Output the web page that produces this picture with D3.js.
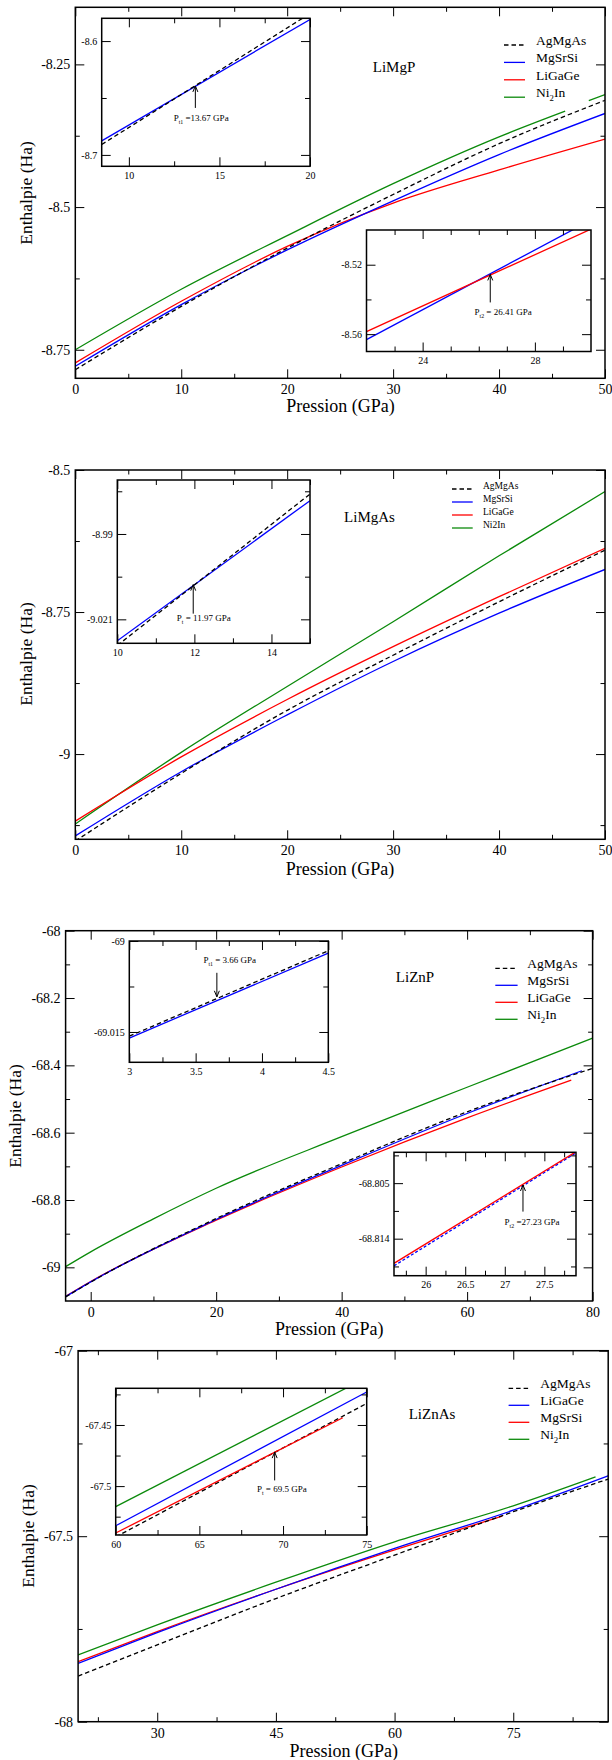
<!DOCTYPE html>
<html>
<head>
<meta charset="utf-8">
<script src="https://cdn.jsdelivr.net/npm/d3@7"></script>
<style>
  body { margin: 0; background: #fff; }
  svg { display: block; }
  svg text { font-family: "Liberation Serif", "Times New Roman", serif; }
</style>
</head>
<body>
<svg id="chart" width="612" height="1760" font-family="Liberation Serif, Times New Roman, serif"></svg>
<script>
// legend order = drawing style order (dashed black, blue, red, green)
const namesA = ['AgMgAs', 'MgSrSi', 'LiGaGe', 'Ni_2In'];
const namesB = ['AgMgAs', 'MgSrSi', 'LiGaGe', 'Ni2In'];
const namesC = ['AgMgAs', 'LiGaGe', 'MgSrSi', 'Ni_2In'];
const compounds = ['LiMgP', 'LiMgAs', 'LiZnP', 'LiZnAs'];

// ---- LiMgP : [pressure (GPa), enthalpy (Ha)], null = gap in the curve ----
const limgpAgMgAs = [[0, -8.785], [10, -8.674], [20, -8.572], [30, -8.478], [40, -8.389], [50, -8.313]];
const limgpMgSrSi = [[0, -8.779], [10, -8.671], [20, -8.575], [30, -8.489], [40, -8.408], [50, -8.336]];
const limgpLiGaGe = [[0, -8.773], [10, -8.665], [20, -8.569], [30, -8.493], [40, -8.435], [50, -8.381]];
const limgpNi2In = [[0, -8.750], [10, -8.644], [20, -8.550], [30, -8.459], [40, -8.377], [46.24, -8.332],
    [47, null], [48.47, -8.3136], [50, -8.303]];
const limgpZoom1AgMgAs = [[8.5, -8.6909], [20, -8.5758]];
const limgpZoom1MgSrSi = [[8.5, -8.6877], [20, -8.5810]];
const limgpZoom2MgSrSi = [[22, -8.5632], [30, -8.4943]];
const limgpZoom2LiGaGe = [[22, -8.5585], [30, -8.4995]];
const limgpTransitions = [[13.67, -8.6394], [26.41, -8.5256]];
const limgpLabels = ['P_{t1} =13.67 GPa', 'P_{t2} = 26.41 GPa'];

// ---- LiMgAs ----
const limgasAgMgAs = [[0, -9.153], [10, -9.034], [20, -8.923], [30, -8.826], [40, -8.732], [50, -8.641]];
const limgasMgSrSi = [[0, -9.144], [10, -9.031], [20, -8.931], [30, -8.837], [40, -8.752], [50, -8.675]];
const limgasLiGaGe = [[0, -9.118], [10, -9.005], [20, -8.904], [30, -8.811], [40, -8.723], [50, -8.638]];
const limgasNi2In = [[0, -9.123], [10, -8.997], [20, -8.881], [30, -8.767], [40, -8.651], [50, -8.538]];
const limgasZoomAgMgAs = [[10, -9.0305], [15, -8.9755]];
const limgasZoomMgSrSi = [[10, -9.0288], [15, -8.9779]];
const limgasTransitions = [[11.97, -9.0084]];
const limgasLabels = ['P_t = 11.97 GPa'];

// ---- LiZnP ----
const liznpAgMgAs = [[-4, -69.088], [0, -69.044], [20, -68.855], [40, -68.692], [60, -68.538], [80, -68.409]];
const liznpMgSrSi = [[-4, -69.087], [0, -69.043], [20, -68.858], [40, -68.697], [60, -68.543], [78.3, -68.416]];
const liznpLiGaGe = [[-4, -69.086], [0, -69.042], [20, -68.860], [40, -68.702], [60, -68.556], [76.6, -68.444]];
const liznpNi2In = [[-4, -68.998], [0, -68.954], [10, -68.856], [20, -68.765], [40, -68.612], [60, -68.465], [80, -68.319]];
const liznpZoom1AgMgAs = [[3, -69.0157], [4.5, -69.0016]];
const liznpZoom1MgSrSi = [[3, -69.0160], [4.5, -69.0020]];
const liznpZoom2MgSrSi = [[25.6, -68.8184], [27.9, -68.8001]];
const liznpZoom2LiGaGe = [[25.6, -68.8180], [27.9, -68.7999]];
const liznpTransitions = [[3.66, -69.0092], [27.23, -68.8053]];
const liznpLabels = ['P_{t1} = 3.66 GPa', 'P_{t2} =27.23 GPa'];

// ---- LiZnAs ----
const liznasAgMgAs = [[20, -67.877], [30, -67.793], [45, -67.668], [60, -67.551], [75, -67.434], [87, -67.346]];
const liznasLiGaGe = [[20, -67.843], [30, -67.760], [45, -67.643], [60, -67.533], [75, -67.430], [87, -67.337]];
const liznasMgSrSi = [[20, -67.838], [30, -67.757], [45, -67.643], [60, -67.537], [73.6, -67.446]];
const liznasNi2In = [[20, -67.820], [30, -67.739], [45, -67.624], [60, -67.515], [75, -67.418], [85.4, -67.340]];
const liznasZoomAgMgAs = [[60, -67.5416], [75, -67.4324]];
const liznasZoomLiGaGe = [[60, -67.5324], [75, -67.4230]];
const liznasZoomMgSrSi = [[60, -67.5384], [73.57, -67.4441]];
const liznasZoomNi2In = [[60, -67.5168], [75, -67.4112]];
const liznasTransitions = [[69.5, -67.4722]];
const liznasLabels = ['P_t = 69.5 GPa'];

// ---- ticks ----
const ticks1 = { x: [0, 10, 20, 30, 40, 50], xm: [5, 15, 25, 35, 45], y: [-8.75, -8.5, -8.25], ym: [-8.625, -8.375], yl: ['-8.75', '-8.5', '-8.25'] };
const ticks1a = { x: [10, 15, 20], xm: [12.5, 17.5], y: [-8.7, -8.6], ym: [-8.65], yl: ['-8.7', '-8.6'] };
const ticks1b = { x: [24, 28], xm: [23, 25, 26, 27, 29], y: [-8.56, -8.52], ym: [-8.54], yl: ['-8.56', '-8.52'] };
const ticks2 = { x: [0, 10, 20, 30, 40, 50], xm: [5, 15, 25, 35, 45], y: [-9, -8.75, -8.5], ym: [-9.125, -8.875, -8.625], yl: ['-9', '-8.75', '-8.5'] };
const ticks2a = { x: [10, 12, 14], xm: [11, 13, 15], y: [-9.021, -8.99], ym: [-9.0055, -8.9745], yl: ['-9.021', '-8.99'] };
const ticks3 = { x: [0, 20, 40, 60, 80], xm: [10, 30, 50, 70], y: [-69, -68.8, -68.6, -68.4, -68.2, -68], ym: [-68.9, -68.7, -68.5, -68.3, -68.1], yl: ['-69', '-68.8', '-68.6', '-68.4', '-68.2', '-68'] };
const ticks3a = { x: [3, 3.5, 4, 4.5], xm: [3.25, 3.75, 4.25], y: [-69.015, -69], ym: [-69.0075], yl: ['-69.015', '-69'] };
const ticks3b = { x: [26, 26.5, 27, 27.5], xm: [25.75, 26.25, 26.75, 27.25, 27.75], y: [-68.814, -68.805], ym: [-68.8185, -68.8095, -68.8005], yl: ['-68.814', '-68.805'] };
const ticks4 = { x: [30, 45, 60, 75], xm: [22.5, 37.5, 52.5, 67.5, 82.5], y: [-68, -67.5, -67], ym: [-67.75, -67.25], yl: ['-68', '-67.5', '-67'] };
const ticks4a = { x: [60, 65, 70, 75], xm: [62.5, 67.5, 72.5], y: [-67.5, -67.45], ym: [-67.525, -67.475, -67.425], yl: ['-67.5', '-67.45'] };

const colors = ['#000000', '#0000ff', '#ff0000', '#0b8a0b'];
const dashes = ['4.5,3', null, null, null];
const serif = 'Liberation Serif, Times New Roman, serif';

const svg = d3.select('#chart');
const defs = svg.append('defs');
let clipN = 0;

// text with simple subscripts: X_2 or X_{t1}
function rich(text, str, size) {
    let shift = 0;
    str.split(/(_\{[^}]*\}|_.)/).filter(s => s).forEach(p => {
        const isSub = p[0] === '_';
        const want = isSub ? size * 0.3 : 0;
        text.append('tspan')
            .attr('dy', want - shift)
            .attr('font-size', isSub ? size * 0.65 : null)
            .text(isSub ? p.replace(/^_\{?|\}$/g, '') : p);
        shift = want;
    });
}

function style(i) { return { color: colors[i], dash: dashes[i] }; }

function plot(c) {
    const [l, r, t, b] = c.box;
    const x = d3.scaleLinear().domain(c.xDomain).range([l, r]);
    const y = d3.scaleLinear().domain(c.yDomain).range([b, t]);
    const g = svg.append('g');
    const id = 'clip' + (clipN++);
    defs.append('clipPath').attr('id', id)
        .append('rect').attr('x', l).attr('y', t).attr('width', r - l).attr('height', b - t);

    g.append('rect').attr('x', l).attr('y', t).attr('width', r - l).attr('height', b - t).attr('fill', '#fff');

    const line = d3.line()
        .defined(d => d[1] != null)
        .x(d => x(d[0])).y(d => y(d[1]))
        .curve(d3.curveMonotoneX);
    g.append('g').attr('clip-path', `url(#${id})`)
        .selectAll('path')
        .data(c.series)
        .join('path')
        .attr('d', s => line(s.values))
        .attr('fill', 'none')
        .attr('stroke', s => s.color)
        .attr('stroke-width', 1.3)
        .attr('stroke-dasharray', s => s.dash);

    const tk = c.ticks;
    const sides = [
        { make: d3.axisBottom, scale: x, at: `translate(0,${b})`, major: tk.x, minor: tk.xm, labels: tk.x.map(String), pad: c.padX },
        { make: d3.axisTop, scale: x, at: `translate(0,${t})`, major: tk.x, minor: tk.xm },
        { make: d3.axisLeft, scale: y, at: `translate(${l},0)`, major: tk.y, minor: tk.ym, labels: tk.yl, pad: c.padY },
        { make: d3.axisRight, scale: y, at: `translate(${r},0)`, major: tk.y, minor: tk.ym }
    ];
    sides.forEach(s => {
        [[s.major, c.tickMajor, s.labels], [s.minor, c.tickMinor, null]].forEach(([vals, size, labels]) => {
            const ax = s.make(s.scale)
                .tickValues(vals)
                .tickSize(-size)
                .tickPadding(s.pad || 3)
                .tickFormat((d, i) => labels ? labels[i] : '');
            g.append('g')
                .attr('transform', s.at)
                .call(ax)
                .call(a => a.select('.domain').remove())
                .attr('font-family', serif)
                .attr('font-size', c.font);
        });
    });

    g.append('rect')
        .attr('x', l).attr('y', t).attr('width', r - l).attr('height', b - t)
        .attr('fill', 'none').attr('stroke', '#000').attr('stroke-width', 1.5);

    return { x, y };
}

function arrows(sc, points, labels, opts) {
    points.forEach((p, i) => {
        const o = opts[i];
        const tx = sc.x(p[0]), ty = sc.y(p[1]);
        const s = o.dir === 'up' ? 1 : -1;
        const g = svg.append('g').attr('stroke', '#000').attr('fill', 'none').attr('stroke-width', 1);
        g.append('line').attr('x1', tx).attr('x2', tx).attr('y1', ty + s * o.len).attr('y2', ty);
        g.append('path').attr('d', `M${tx - 2.5},${ty + s * 6}L${tx},${ty}L${tx + 2.5},${ty + s * 6}`);
        const text = svg.append('text')
            .attr('x', tx + o.dx)
            .attr('y', ty + s * o.len + o.dy)
            .attr('font-family', serif)
            .attr('font-size', 9);
        rich(text, labels[i], 9);
    });
}

function legend(c) {
    const g = svg.append('g').attr('font-size', c.font).attr('font-family', serif);
    const rows = g.selectAll('g.row')
        .data(c.names)
        .join('g')
        .attr('class', 'row')
        .attr('transform', (d, i) => `translate(0,${c.y0 + i * c.dy})`);
    rows.append('line')
        .attr('x1', c.x0).attr('x2', c.x1)
        .attr('stroke', (d, i) => colors[i])
        .attr('stroke-width', 1.3)
        .attr('stroke-dasharray', (d, i) => dashes[i]);
    rows.append('text')
        .attr('x', c.tx)
        .attr('dy', '0.35em')
        .each(function (d) { rich(d3.select(this), d, c.font); });
}

function titles(c) {
    const g = svg.append('g').attr('font-family', serif).attr('text-anchor', 'middle');
    g.append('text').attr('x', c.name[0]).attr('y', c.name[1]).attr('dy', '0.35em')
        .attr('font-size', 15).text(c.compound);
    g.append('text').attr('x', c.xt[0]).attr('y', c.xt[1]).attr('dy', '0.35em')
        .attr('font-size', 18).text('Pression (GPa)');
    g.append('text').attr('transform', `translate(${c.yt[0]},${c.yt[1]}) rotate(-90)`).attr('dy', '0.35em')
        .attr('font-size', 17.5).text('Enthalpie (Ha)');
}

const mainOpts = { tickMajor: 9, tickMinor: 4.5, font: 14, padX: 6, padY: 5 };
const insetOpts = { tickMajor: 9, tickMinor: 5, font: 10, padX: 5.5, padY: 4.5 };

// ---------- panel 1 : LiMgP ----------
plot({ ...mainOpts, box: [75.3, 605, 7.3, 378.3], xDomain: [0, 50], yDomain: [-8.8, -8.15], ticks: ticks1,
    series: [limgpNi2In, limgpLiGaGe, limgpMgSrSi, limgpAgMgAs].map((v, k) => ({ values: v, ...style(3 - k) })) });
legend({ names: namesA, font: 13.5, x0: 504, x1: 525, tx: 536, y0: 45, dy: 17.4 });
titles({ compound: compounds[0], name: [394, 67], xt: [340.6, 406], yt: [25.4, 193] });
const s1a = plot({ ...insetOpts, box: [101.7, 310, 18.3, 166.3], xDomain: [8.5, 20], yDomain: [-8.71, -8.58], ticks: ticks1a,
    series: [{ values: limgpZoom1MgSrSi, ...style(1) }, { values: limgpZoom1AgMgAs, ...style(0) }] });
arrows(s1a, [limgpTransitions[0]], [limgpLabels[0]], [{ dir: 'up', len: 22, dx: -21.6, dy: 13.2 }]);
const s1b = plot({ ...insetOpts, box: [366.5, 591, 230, 351.5], xDomain: [22, 30], yDomain: [-8.57, -8.5], ticks: ticks1b,
    series: [{ values: limgpZoom2MgSrSi, ...style(1) }, { values: limgpZoom2LiGaGe, ...style(2) }] });
arrows(s1b, [limgpTransitions[1]], [limgpLabels[1]], [{ dir: 'up', len: 28, dx: -15.7, dy: 12.5 }]);

// ---------- panel 2 : LiMgAs ----------
plot({ ...mainOpts, box: [75.3, 605, 470, 839.3], xDomain: [0, 50], yDomain: [-9.15, -8.5], ticks: ticks2,
    series: [limgasNi2In, limgasLiGaGe, limgasMgSrSi, limgasAgMgAs].map((v, k) => ({ values: v, ...style(3 - k) })) });
legend({ names: namesB, font: 9.5, x0: 452, x1: 472.7, tx: 483, y0: 489, dy: 13 });
titles({ compound: compounds[1], name: [369.5, 516.7], xt: [340, 868.3], yt: [25.4, 654] });
const s2a = plot({ ...insetOpts, box: [117.3, 310, 480, 643.3], xDomain: [10, 15], yDomain: [-9.0297, -8.9704], ticks: ticks2a,
    series: [{ values: limgasZoomMgSrSi, ...style(1) }, { values: limgasZoomAgMgAs, ...style(0) }] });
arrows(s2a, limgasTransitions, limgasLabels, [{ dir: 'up', len: 29, dx: -16.4, dy: 7.5 }]);

// ---------- panel 3 : LiZnP ----------
plot({ ...mainOpts, box: [65.6, 592.6, 930.7, 1301], xDomain: [-4, 80], yDomain: [-69.1, -68], ticks: ticks3,
    series: [liznpNi2In, liznpLiGaGe, liznpMgSrSi, liznpAgMgAs].map((v, k) => ({ values: v, ...style(3 - k) })) });
legend({ names: namesA, font: 13.5, x0: 495.3, x1: 517.6, tx: 527.3, y0: 968.3, dy: 17 });
titles({ compound: compounds[2], name: [415, 976.7], xt: [329.3, 1329], yt: [14.8, 1116] });
const s3a = plot({ ...insetOpts, box: [129.3, 328.3, 941, 1062.3], xDomain: [3, 4.5], yDomain: [-69.02, -69], ticks: ticks3a,
    series: [{ values: liznpZoom1MgSrSi, ...style(1) }, { values: liznpZoom1AgMgAs, ...style(0) }] });
arrows(s3a, [liznpTransitions[0]], [liznpLabels[0]], [{ dir: 'down', len: 24, dx: -13.4, dy: -9.3 }]);
const s3b = plot({ ...insetOpts, box: [394, 576, 1152.3, 1275.7], xDomain: [25.6, 27.9], yDomain: [-68.82, -68.8], ticks: ticks3b,
    series: [{ values: liznpZoom2MgSrSi, color: colors[1], dash: '3,2' }, { values: liznpZoom2LiGaGe, ...style(2) }] });
arrows(s3b, [liznpTransitions[1]], [liznpLabels[1]], [{ dir: 'up', len: 26.6, dx: -18.4, dy: 13.2 }]);

// ---------- panel 4 : LiZnAs ----------
plot({ ...mainOpts, box: [78.1, 608.2, 1350.7, 1721.7], xDomain: [20, 87], yDomain: [-68, -67], ticks: ticks4,
    series: [liznasNi2In, liznasMgSrSi, liznasLiGaGe, liznasAgMgAs].map((v, k) => ({ values: v, ...style(3 - k) })) });
legend({ names: namesC, font: 13.5, x0: 508.6, x1: 529.3, tx: 540.2, y0: 1388.3, dy: 17 });
titles({ compound: compounds[3], name: [432, 1414], xt: [343.8, 1750.7], yt: [28.1, 1536] });
const s4a = plot({ ...insetOpts, box: [115.7, 366.7, 1388.3, 1535], xDomain: [60, 75], yDomain: [-67.54, -67.42], ticks: ticks4a,
    series: [{ values: liznasZoomNi2In, ...style(3) }, { values: liznasZoomLiGaGe, ...style(1) },
             { values: liznasZoomAgMgAs, ...style(0) }, { values: liznasZoomMgSrSi, ...style(2) }] });
arrows(s4a, liznasTransitions, liznasLabels, [{ dir: 'up', len: 28.3, dx: -17.7, dy: 11.7 }]);
</script>
</body>
</html>
